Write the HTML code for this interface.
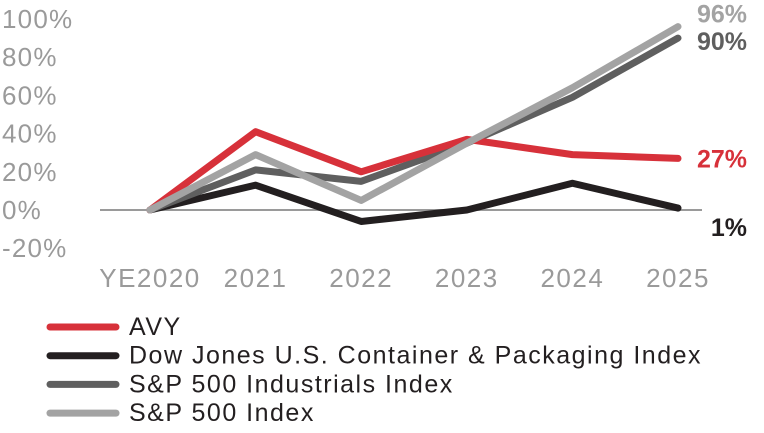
<!DOCTYPE html>
<html><head><meta charset="utf-8"><style>
body{margin:0;background:#fff;}
svg{display:block;font-family:"Liberation Sans",sans-serif;}
</style></head><body>
<svg id="chart" width="764" height="433"></svg>
<script>
const categories=["YE2020","2021","2022","2023","2024","2025"];
const yTicks=[100,80,60,40,20,0,-20];
const avy=[0,41,20,37,29,27];
const dow=[0,13,-6,0,14,1];
const ind=[0,21,15,35,59,90];
const sp=[0,29,5,35,64,96];
const seriesNames=["AVY","Dow Jones U.S. Container & Packaging Index","S&P 500 Industrials Index","S&P 500 Index"];
const endLabels=["27%","1%","90%","96%"];

const svg=document.getElementById('chart');
const NS="http://www.w3.org/2000/svg";
const x=i=>150+i*105.6;
const y=v=>210-v*1.91;
function mk(tag,attrs,parent){const e=document.createElementNS(NS,tag);for(const k in attrs)e.setAttribute(k,attrs[k]);(parent||svg).appendChild(e);return e;}

yTicks.forEach(t=>{
  const e=mk('text',{x:2,y:y(t)+9,'font-size':26,'letter-spacing':1.2,fill:'#9a9a9a'});
  e.textContent=t+'%';
  
  
});
categories.forEach((c,i)=>{
  const e=mk('text',{x:x(i),y:287,'font-size':26,'letter-spacing':1.5,fill:'#9a9a9a','text-anchor':'middle'});
  e.textContent=c;
  
  
});
const zl=mk('line',{x1:100,x2:702,y1:y(0),y2:y(0),stroke:'#9a9a9a','stroke-width':2});



const data=[avy,dow,ind,sp];
const colors=["#d7313a","#231f20","#5f5f5f","#a3a3a3"];
const drawOrder=[1,2,0,3];
drawOrder.forEach(s=>{
  const pts=data[s].map((v,i)=>x(i)+','+y(v)).join(' ');
  const p=mk('polyline',{points:pts,fill:'none',stroke:colors[s],'stroke-width':7,'stroke-linejoin':'round','stroke-linecap':'round'});
  
  
});
const labelOffsets=[[-2,9],[-2,28],[0,12],[0,-4]];
data.forEach((d,s)=>{
  const v=d[d.length-1];
  const e=mk('text',{x:747,y:y(v)+labelOffsets[s][1],'font-size':25,'font-weight':'bold',fill:colors[s],'text-anchor':'end'});
  e.textContent=endLabels[s];
  
  
});
seriesNames.forEach((n,i)=>{
  const yy=327+i*28.7;
  const g=mk('g',{});
  
  
  mk('line',{x1:50,x2:116,y1:yy,y2:yy,stroke:colors[i],'stroke-width':7,'stroke-linecap':'round'},g);
  const t=mk('text',{x:129,y:yy+8,'font-size':25,'letter-spacing':1.5,fill:'#231f20'},g);
  t.textContent=n;
});
</script>
</body></html>
